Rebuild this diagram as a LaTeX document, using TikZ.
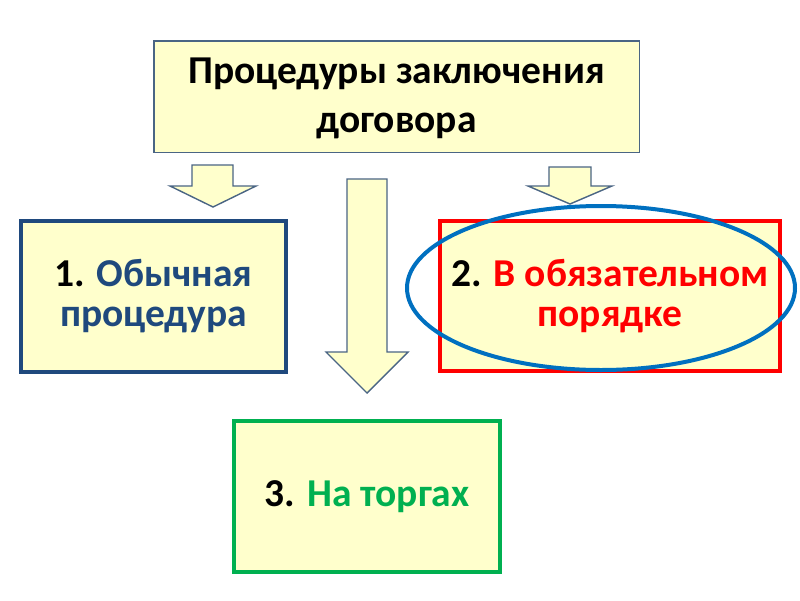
\documentclass[tikz,border=0pt]{standalone}
\usepackage{fontspec}
\setmainfont{Carlito}
\definecolor{fillY}{HTML}{FFFFCC}
\definecolor{topB}{HTML}{4A6584}
\definecolor{navy}{HTML}{1F497D}
\definecolor{redB}{HTML}{FF0000}
\definecolor{greenB}{HTML}{00B050}
\definecolor{ellB}{HTML}{0070C0}
\tikzset{
  box/.style={rectangle, fill=fillY, align=center, inner sep=0pt,
    font=\bfseries\fontsize{39.5}{40}\selectfont},
  blockarrow/.style={fill=fillY, draw=topB, line width=1.4pt, line join=miter},
}
\begin{document}
\begin{tikzpicture}[x=1pt,y=-1pt]
\useasboundingbox[fill=white] (0,0) rectangle (800,600);
% top box
\node[box, draw=topB, line width=1.5pt, minimum width=485.5pt, minimum height=111.5pt] (top) at (396.5,96.5) {};
\node[align=center, inner sep=0pt, font=\bfseries\fontsize{39.5}{49}\selectfont] (toptext) at (396.5,98.5)
  {Процедуры заключения\\договора};
% block arrows
\draw[blockarrow] (192,165) -- (233,165) -- (233,186) -- (256,186) -- (213,207)
  -- (170,186) -- (192,186) -- cycle;
\draw[blockarrow] (347,179) -- (387,179) -- (387,352) -- (408,352) -- (367,393)
  -- (326,352) -- (347,352) -- cycle;
\draw[blockarrow] (549,167) -- (591,167) -- (591,186) -- (612,186) -- (570,204)
  -- (528,186) -- (549,186) -- cycle;
% boxes
\node[box, draw=navy, line width=4pt, minimum width=265pt, minimum height=151pt,
  text=navy] (b1) at (153.5,296.5)
  {\textcolor{black}{1.} Обычная\\процедура};
\node[box, draw=redB, line width=4pt, minimum width=340pt, minimum height=150pt,
  text=redB] (b2) at (610,296)
  {\textcolor{black}{2.} В обязательном\\порядке};
\node[box, draw=greenB, line width=4pt, minimum width=266pt, minimum height=151pt,
  text=greenB] (b3) at (367,496.5)
  {\textcolor{black}{3.} На торгах};
% ellipse highlight
\draw[ellB, line width=4pt] (601,288) ellipse [x radius=194, y radius=82];
\end{tikzpicture}
\end{document}
